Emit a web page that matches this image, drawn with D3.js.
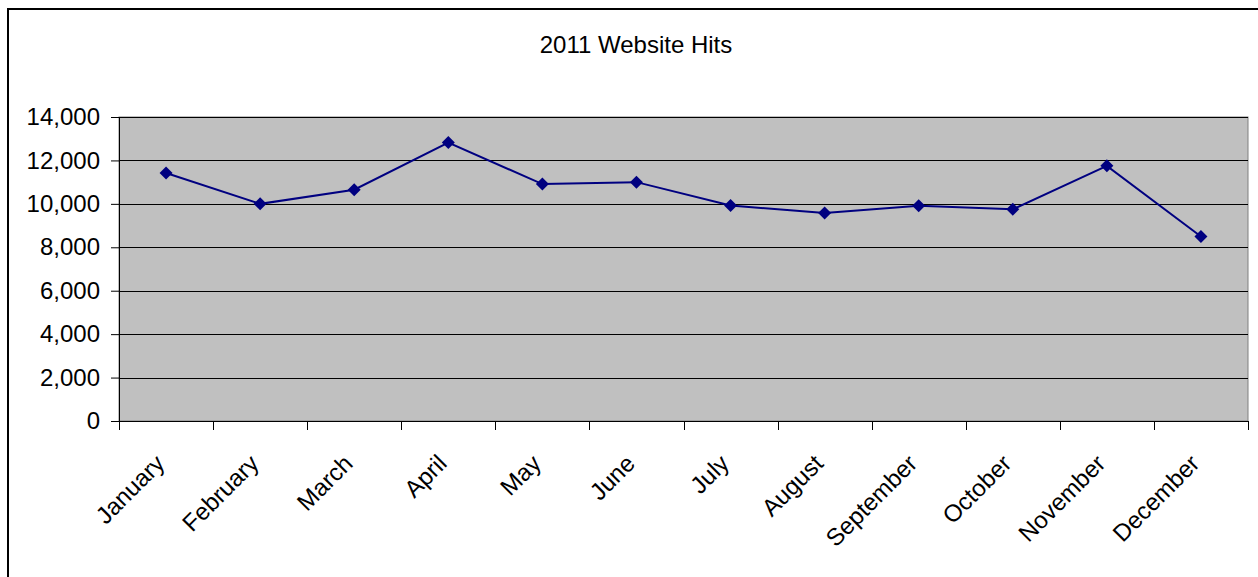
<!DOCTYPE html>
<html>
<head>
<meta charset="utf-8">
<script src="https://cdn.jsdelivr.net/npm/d3@7"></script>
<style>
  html, body { margin: 0; padding: 0; background: #fff; }
  svg { display: block; font-family: "Liberation Sans", Arial, sans-serif; }
</style>
</head>
<body>
<svg id="chart" width="1258" height="577"></svg>
<script>
const months = ["January","February","March","April","May","June","July","August","September","October","November","December"];
const hits = [11420, 10000, 10650, 12820, 10910, 11000, 9920, 9580, 9910, 9750, 11750, 8500];
const yTicks = [0, 2000, 4000, 6000, 8000, 10000, 12000, 14000];
const title = "2011 Website Hits";

const svg = d3.select("#chart");
const W = 1258, H = 577;
const m = { left: 119, right: 10, top: 117, bottom: 156 };
const pw = W - m.left - m.right, ph = H - m.top - m.bottom;

// outer frame
svg.append("rect").attr("x", 8).attr("y", 9).attr("width", W + 10).attr("height", H + 10)
  .attr("fill", "#fff").attr("stroke", "#000").attr("stroke-width", 2);

svg.append("text").attr("x", 636).attr("y", 53).attr("text-anchor", "middle")
  .attr("font-size", 24).attr("fill", "#000").text(title);

const x = d3.scaleBand().domain(months).range([m.left, m.left + pw]);
const y = d3.scaleLinear().domain([0, 14000]).range([m.top + ph, m.top]);

// plot background
svg.append("rect").attr("x", m.left).attr("y", m.top).attr("width", pw).attr("height", ph)
  .attr("fill", "#C0C0C0").attr("stroke", "#808080").attr("stroke-width", 1);

// gridlines
svg.append("g").selectAll("line").data(yTicks.filter(d => d > 0)).join("line")
  .attr("x1", m.left).attr("x2", m.left + pw)
  .attr("y1", d => Math.round(y(d)) + 0.5).attr("y2", d => Math.round(y(d)) + 0.5)
  .attr("stroke", "#000").attr("stroke-width", 1);

// y axis
const yAxis = svg.append("g").attr("transform", `translate(${m.left},0)`)
  .call(d3.axisLeft(y).tickValues(yTicks).tickSize(8).tickPadding(11).tickFormat(d3.format(",")));
yAxis.selectAll("text").attr("font-size", 24).attr("fill", "#000").attr("font-family", "Liberation Sans, Arial, sans-serif");
yAxis.selectAll("line, path").attr("stroke", "#000");

// x axis with ticks at boundaries
const bounds = months.map(d => x(d)).concat([m.left + pw]);
const xg = svg.append("g");
xg.append("line").attr("x1", m.left - 8).attr("x2", m.left + pw)
  .attr("y1", y(0) + 0.5).attr("y2", y(0) + 0.5).attr("stroke", "#000");
xg.selectAll("line.tick").data(bounds).join("line").attr("class", "tick")
  .attr("x1", d => Math.round(d) + 0.5).attr("x2", d => Math.round(d) + 0.5)
  .attr("y1", y(0)).attr("y2", y(0) + 9).attr("stroke", "#000");
xg.selectAll("text").data(months).join("text")
  .attr("transform", d => `translate(${x(d) + x.bandwidth() / 2},${y(0) + 44}) rotate(-45)`)
  .attr("text-anchor", "end").attr("font-size", 24).attr("fill", "#000").text(d => d);

// line
const cx = d => x(d) + x.bandwidth() / 2;
svg.append("path").datum(hits)
  .attr("d", d3.line().x((d, i) => cx(months[i])).y(d => y(d)))
  .attr("fill", "none").attr("stroke", "#000080").attr("stroke-width", 2);

svg.append("g").selectAll("path").data(hits).join("path")
  .attr("transform", (d, i) => `translate(${cx(months[i])},${y(d)})`)
  .attr("d", "M0,-6.5L6.5,0L0,6.5L-6.5,0Z").attr("fill", "#000080");
</script>
</body>
</html>
